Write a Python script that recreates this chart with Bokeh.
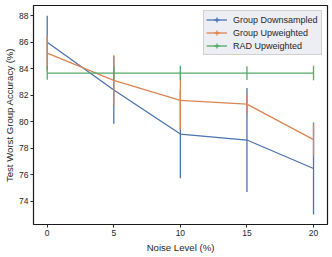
import numpy as np
from bokeh.plotting import figure
from bokeh.models import ColumnDataSource, Legend, LegendItem, FixedTicker, Range1d
from bokeh.embed import file_html
from bokeh.resources import INLINE

noise = [0, 5, 10, 15, 20]
gd_mean = [86.0, 82.4, 79.07, 78.62, 76.47]
gd_err = [2.0, 2.56, 3.33, 3.93, 3.47]
gu_mean = [85.18, 83.12, 81.61, 81.33, 78.65]
gu_err = [1.33, 1.9, 2.2, 0.7, 1.2]
rad_mean = [83.68, 83.68, 83.68, 83.68, 83.68]
rad_err = [0.5, 0.52, 0.55, 0.52, 0.55]
series_names = ["Group Downsampled", "Group Upweighted", "RAD Upweighted"]
colors = ["#4c72b0", "#dd8452", "#55a868"]
x_ticks = [0, 5, 10, 15, 20]
y_ticks = [74, 76, 78, 80, 82, 84, 86, 88]

FONT = "Liberation Sans"
TXT = "#262626"

p = figure(width=332, height=257, output_backend="svg", toolbar_location=None,
           x_range=Range1d(-1.03, 21.05), y_range=Range1d(72.24, 88.78),
           min_border_left=33, min_border_right=5, min_border_top=5, min_border_bottom=33)
p.grid.visible = False
p.background_fill_color = "white"
p.border_fill_color = "white"
p.outline_line_color = "#1a1a1a"
p.outline_line_width = 1.2

for ax in (p.xaxis, p.yaxis):
    ax.axis_line_color = None
    ax.major_tick_line_color = TXT
    ax.major_tick_out = 3
    ax.major_tick_in = 0
    ax.minor_tick_line_color = None
    ax.major_label_text_font = FONT
    ax.major_label_text_font_size = "8.5px"
    ax.major_label_text_color = TXT
    ax.axis_label_text_font = FONT
    ax.axis_label_text_font_size = "9.6px"
    ax.axis_label_text_font_style = "normal"
    ax.axis_label_text_color = TXT
p.xaxis.ticker = FixedTicker(ticks=x_ticks)
p.yaxis.ticker = FixedTicker(ticks=y_ticks)
p.xaxis.axis_label = "Noise Level (%)"
p.yaxis.axis_label = "Test Worst Group Accuracy (%)"
p.xaxis.major_label_standoff = 2
p.yaxis.major_label_standoff = 2
p.xaxis.axis_label_standoff = 3
p.yaxis.axis_label_standoff = 1

items = []
for name, col, m, e in zip(series_names, colors,
                           [gd_mean, gu_mean, rad_mean], [gd_err, gu_err, rad_err]):
    m = np.array(m)
    e = np.array(e)
    src = ColumnDataSource(dict(x=noise, y=m, lo=m - e, hi=m + e))
    ln = p.line("x", "y", source=src, line_color=col, line_width=1.3)
    seg = p.segment(x0="x", y0="lo", x1="x", y1="hi", source=src,
                    line_color=col, line_width=1.3)
    mk = p.scatter("x", "y", source=src, marker="cross", size=0,
                   line_color=col, line_width=1.3)
    items.append(LegendItem(label=name, renderers=[ln, mk]))

legend = Legend(items=items, location="top_right", margin=5, padding=2,
                spacing=0, glyph_width=21, glyph_height=13, label_height=13,
                label_standoff=6, label_width=86,
                label_text_font=FONT, label_text_font_size="9px",
                label_text_color=TXT,
                background_fill_color="#eaeaf2", background_fill_alpha=0.85,
                border_line_color="#cccccc", border_line_alpha=0.9, border_line_width=1)
p.add_layout(legend)

open("out.html", "w").write(file_html(p, INLINE))
